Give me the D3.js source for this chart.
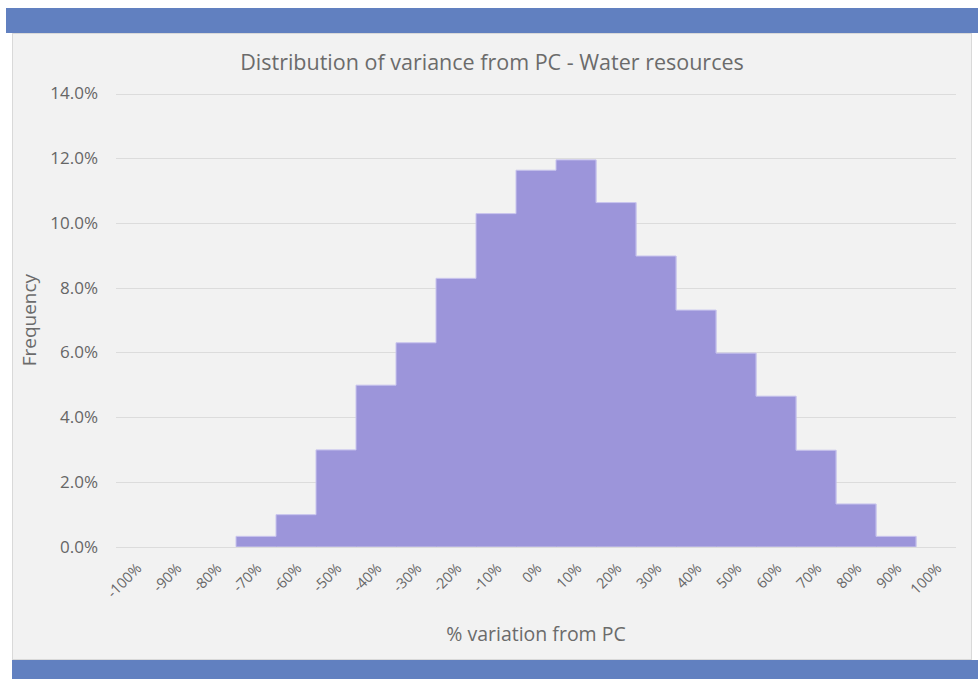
<!DOCTYPE html>
<html>
<head>
<meta charset="utf-8">
<script src="https://cdnjs.cloudflare.com/ajax/libs/d3/7.8.5/d3.min.js"></script>
<style>
  html, body { margin: 0; padding: 0; background: #ffffff; }
  svg { display: block; }
  text { font-family: "Open Sans", "Noto Sans", sans-serif; }
</style>
</head>
<body>
<svg id="chart" width="978" height="679"></svg>
<script>
// ---- data ----
const categories = ["-100%","-90%","-80%","-70%","-60%","-50%","-40%","-30%","-20%","-10%","0%","10%","20%","30%","40%","50%","60%","70%","80%","90%","100%"];
const frequency = [0, 0, 0, 0.0032, 0.0099, 0.0299, 0.0499, 0.0630, 0.0829, 0.1029, 0.1163, 0.1195, 0.1063, 0.0898, 0.0731, 0.0598, 0.0465, 0.0298, 0.0132, 0.0032, 0];
const yTicks = [0, 0.02, 0.04, 0.06, 0.08, 0.10, 0.12, 0.14];
const title = "Distribution of variance from PC - Water resources";
const xTitle = "% variation from PC";
const yTitle = "Frequency";

const svg = d3.select("#chart");

// frame
svg.append("rect").attr("x", 6).attr("y", 8).attr("width", 972).attr("height", 25).attr("fill", "#6180c0");
svg.append("rect").attr("x", 12.5).attr("y", 33.5).attr("width", 959).attr("height", 626).attr("fill", "#f2f2f2").attr("stroke", "#d9d9d9");
svg.append("rect").attr("x", 12).attr("y", 660).attr("width", 966).attr("height", 19).attr("fill", "#6180c0");

const plot = { left: 116, right: 956, top: 93.5, bottom: 546.7 };

const x = d3.scaleBand().domain(categories).range([plot.left, plot.right]).paddingInner(0).paddingOuter(0);
const y = d3.scaleLinear().domain([0, 0.14]).range([plot.bottom, plot.top]);

// gridlines
svg.append("g").selectAll("line").data(yTicks).join("line")
  .attr("x1", plot.left).attr("x2", plot.right)
  .attr("y1", d => Math.round(y(d)) + 0.5).attr("y2", d => Math.round(y(d)) + 0.5)
  .attr("stroke", "#dcdcdc").attr("stroke-width", 1);

// bars
const barData = categories.map((c, i) => ({c, v: frequency[i]})).filter(d => d.v > 0);
svg.append("g").selectAll("rect").data(barData).join("rect")
  .attr("x", d => x(d.c))
  .attr("width", x.bandwidth() + 0.3)
  .attr("y", d => y(d.v))
  .attr("height", d => y(0) - y(d.v))
  .attr("fill", "#9c95da");

// outer outline of the histogram (light edge)
const pts = [{px: x(barData[0].c), py: y(0)}]
  .concat(barData.map(d => ({px: x(d.c), py: y(d.v)})))
  .concat([{px: x(barData[barData.length - 1].c) + x.bandwidth(), py: y(0)}]);
const outline = d3.line().x(d => d.px).y(d => d.py).curve(d3.curveStepAfter);
svg.append("path").attr("d", outline(pts)).attr("fill", "none")
  .attr("stroke", "#c9c5ee").attr("stroke-width", 1);

// y axis labels
const yAxis = d3.axisLeft(y).tickValues(yTicks).tickFormat(d3.format(".1%")).tickSize(0).tickPadding(18);
const gy = svg.append("g").attr("transform", `translate(${plot.left},0)`).call(yAxis);
gy.select(".domain").remove();
gy.selectAll("text").attr("fill", "#666666").style("font-size", "17px").style("font-family", "'Open Sans', sans-serif");

// x axis labels
const xAxis = d3.axisBottom(x).tickSize(0).tickPadding(0);
const gx = svg.append("g").attr("transform", `translate(0,${plot.bottom})`).call(xAxis);
gx.select(".domain").remove();
gx.selectAll("text")
  .attr("fill", "#666666")
  .style("font-size", "14.5px")
  .style("font-family", "'Open Sans', sans-serif")
  .attr("text-anchor", "end")
  .attr("dy", "0.35em")
  .attr("transform", "translate(3,19) rotate(-45)");

// titles
svg.append("text").attr("x", 492).attr("y", 70).attr("text-anchor", "middle")
  .attr("fill", "#6b6b6b").style("font-size", "21.5px").text(title);
svg.append("text").attr("x", 536).attr("y", 641).attr("text-anchor", "middle")
  .attr("fill", "#6b6b6b").style("font-size", "19.5px").text(xTitle);
svg.append("text").attr("transform", `translate(36,${(plot.top + plot.bottom) / 2}) rotate(-90)`).attr("text-anchor", "middle")
  .attr("fill", "#6b6b6b").style("font-size", "19px").text(yTitle);
</script>
</body>
</html>
